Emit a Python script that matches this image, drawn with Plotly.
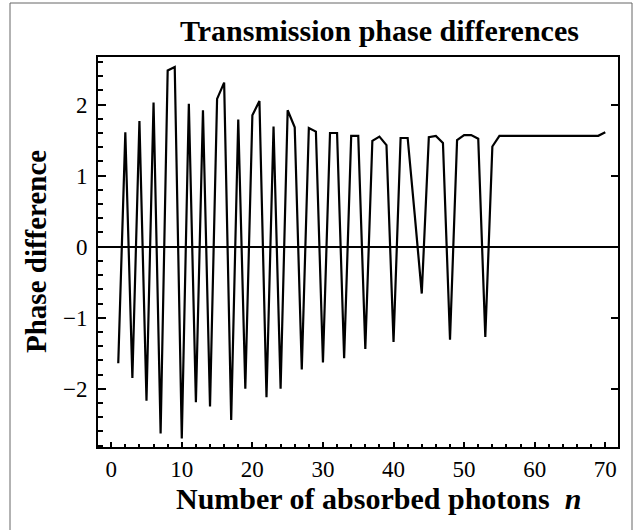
import plotly.graph_objects as go

# ---- data ----
n_values = list(range(1, 71))
phase_diff = [
    -1.64, 1.61, -1.85, 1.77, -2.17, 2.03, -2.63, 2.48, 2.53, -2.70,
    2.01, -2.19, 1.92, -2.25, 2.08, 2.31, -2.44, 1.79, -2.00, 1.85,
    2.05, -2.12, 1.69, -2.00, 1.92, 1.68, -1.73, 1.67, 1.62, -1.63,
    1.60, 1.60, -1.57, 1.56, 1.56, -1.44, 1.49, 1.55, 1.43, -1.34,
    1.53, 1.53, 0.45, -0.66, 1.54, 1.56, 1.46, -1.31, 1.50, 1.57,
    1.57, 1.52, -1.27, 1.41, 1.56, 1.56, 1.56, 1.56, 1.56, 1.56,
    1.56, 1.56, 1.56, 1.56, 1.56, 1.56, 1.56, 1.56, 1.56, 1.61,
]
x_tick_vals = [0, 10, 20, 30, 40, 50, 60, 70]
y_tick_vals = [-2, -1, 0, 1, 2]

title_text = "Transmission phase differences"
x_title = "Number of absorbed photons  <i>n</i>"
y_title = "Phase difference"

SERIF = "Liberation Serif, Times New Roman, serif"

# plot area in pixels
W, H = 641, 530
L, R, T, B = 98, 23, 57, 83
pw = W - L - R
ph = H - T - B

x_range = [-1.87, 71.8]
y_range = [-2.82, 2.67]

fig = go.Figure()
fig.add_trace(go.Scatter(
    x=n_values, y=phase_diff, mode="lines",
    line=dict(color="black", width=2.2),
    showlegend=False, hoverinfo="skip",
))
# helper trace to show right-side ticks
fig.add_trace(go.Scatter(
    x=[None], y=[None], yaxis="y2", mode="lines",
    showlegend=False, hoverinfo="skip",
))

fig.update_layout(
    width=W, height=H,
    margin=dict(l=L, r=R, t=T, b=B, autoexpand=False),
    paper_bgcolor="white", plot_bgcolor="white",
    font=dict(family=SERIF, color="black", size=23),
    xaxis=dict(
        range=x_range, tickvals=x_tick_vals,
        ticks="inside", ticklen=5, tickwidth=1.5, tickcolor="black",
        minor=dict(dtick=2, tick0=0, ticks="inside", ticklen=3,
                   tickwidth=1.5, tickcolor="black"),
        showline=True, linecolor="black", linewidth=2, mirror=True,
        showgrid=False, zeroline=False,
        tickfont=dict(family=SERIF, size=23),
        ticklabelstandoff=0,
    ),
    yaxis=dict(
        range=y_range, tickvals=y_tick_vals,
        ticks="inside", ticklen=8, tickwidth=1.5, tickcolor="black",
        minor=dict(dtick=0.2, tick0=0, ticks="inside", ticklen=5,
                   tickwidth=1.5, tickcolor="black"),
        showline=True, linecolor="black", linewidth=2, mirror=True,
        showgrid=False,
        zeroline=True, zerolinecolor="black", zerolinewidth=1.8,
        tickfont=dict(family=SERIF, size=23),
        ticklabelstandoff=4,
    ),
    yaxis2=dict(
        range=y_range, tickvals=y_tick_vals, overlaying="y", side="right",
        ticks="inside", ticklen=7, tickwidth=1.5, tickcolor="black",
        showticklabels=False, showline=False, showgrid=False, zeroline=False,
    ),
    annotations=[
        dict(text="<b>" + title_text + "</b>", xref="paper", yref="paper",
             x=(379 - L) / pw, y=(H - B - 30) / ph, xanchor="center", yanchor="middle",
             showarrow=False, font=dict(family=SERIF, size=30, color="black")),
        dict(text="<b>" + x_title + "</b>", xref="paper", yref="paper",
             x=(378 - L) / pw, y=(H - B - 498) / ph, xanchor="center", yanchor="middle",
             showarrow=False, font=dict(family=SERIF, size=30, color="black")),
        dict(text="<b>" + y_title + "</b>", xref="paper", yref="paper",
             x=(36 - L) / pw, y=(H - B - 252) / ph, xanchor="center", yanchor="middle",
             textangle=-90,
             showarrow=False, font=dict(family=SERIF, size=29, color="black")),
    ],
    shapes=[
        dict(type="rect", xref="paper", yref="paper",
             x0=(10 - L) / pw, x1=(632 - L) / pw,
             y0=(H - B - 540) / ph, y1=(H - B - 3) / ph,
             line=dict(color="#666666", width=1), fillcolor="rgba(0,0,0,0)",
             layer="below"),
    ],
)

fig.write_html("out.html", config={"displayModeBar": False},
               post_script="document.body.style.margin='0';")
